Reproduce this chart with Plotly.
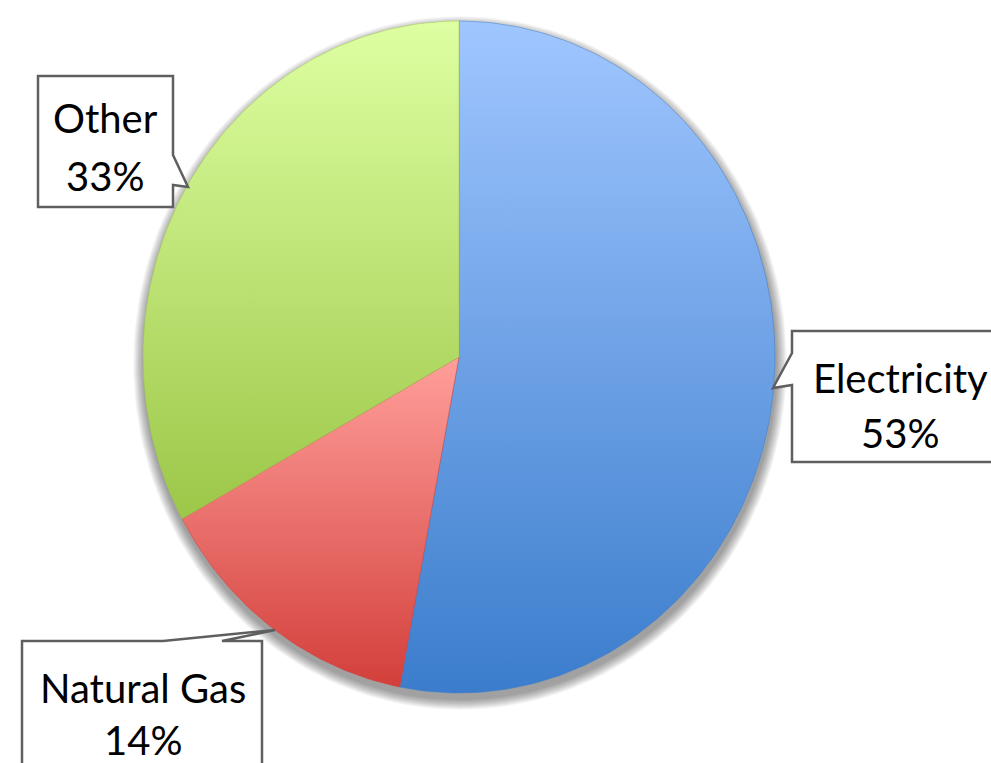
import math
import plotly.graph_objects as go

# ---- data ----
categories = ["Electricity", "Natural Gas", "Other"]
values = [53, 14, 33]
top_colors = ["#A0C6FF", "#FF9F9B", "#DEFFA2"]
bottom_colors = ["#3B7DCC", "#D33F3B", "#9CC748"]

# ---- geometry / style (pixel space) ----
W, H = 991, 763
CX, CY = 459, 357
RX, RY = 316, 336

def ellipse_pt(theta, rx=RX, ry=RY, cx=CX, cy=CY):
    # theta: radians clockwise from 12 o'clock
    return cx + rx * math.sin(theta), cy - ry * math.cos(theta)

fig = go.Figure()

# soft shadow
for k in range(12, 0, -1):
    xs, ys = [], []
    for i in range(181):
        t = 2 * math.pi * i / 180
        x, y = ellipse_pt(t, RX + k * 0.9, RY + k * 0.9, CX + 1, CY + 6)
        xs.append(x); ys.append(y)
    fig.add_trace(go.Scatter(x=xs, y=ys, mode="lines", fill="toself",
                             line=dict(width=0), fillcolor="rgba(0,0,0,0.035)",
                             hoverinfo="skip", showlegend=False))

total = sum(values)
start = 0.0
for cat, val, ct, cb in zip(categories, values, top_colors, bottom_colors):
    frac = val / total
    a0 = start * 2 * math.pi
    a1 = (start + frac) * 2 * math.pi
    n = max(8, int(360 * frac))
    xs, ys = [CX], [CY]
    for i in range(n + 1):
        t = a0 + (a1 - a0) * i / n
        x, y = ellipse_pt(t)
        xs.append(x); ys.append(y)
    xs.append(CX); ys.append(CY)
    fig.add_trace(go.Scatter(
        x=xs, y=ys, mode="lines", fill="toself", line=dict(width=0.5, color=cb),
        fillgradient=dict(type="vertical", start=min(ys), stop=max(ys),
                          colorscale=[[0, ct], [1, cb]]),
        name=cat, hoverinfo="skip", showlegend=False))
    start += frac

# callout boxes
box_line = dict(color="#5F5F5F", width=2.5)
shapes = [
    # Other
    dict(type="path", path="M 38 76 L 173 76 L 173 155 L 188 187 L 173 185 L 173 207 L 38 207 Z",
         line=box_line, fillcolor="white", layer="above"),
    # Electricity
    dict(type="path", path="M 792 331 L 1010 331 L 1010 462 L 792 462 L 792 385 L 773 388 L 792 353 Z",
         line=box_line, fillcolor="white", layer="above"),
    # Natural Gas
    dict(type="path", path="M 22 641 L 163 641 L 275 630 L 222 641 L 262 641 L 262 790 L 22 790 Z",
         line=box_line, fillcolor="white", layer="above"),
]
fig.update_layout(shapes=shapes)

label_pos = {
    "Electricity": (900, 378, 433),
    "Natural Gas": (143, 688, 740),
    "Other": (105, 118, 176),
}
font = dict(family="Lato", size=40, color="black")
for cat, val in zip(categories, values):
    x, y1, y2 = label_pos[cat]
    pct = f"{round(val / total * 100)}%"
    fig.add_annotation(x=x, y=y1, text=cat, showarrow=False, font=font,
                       xanchor="center", yanchor="middle")
    fig.add_annotation(x=x, y=y2, text=pct, showarrow=False, font=font,
                       xanchor="center", yanchor="middle")

fig.update_xaxes(range=[0, W], visible=False, fixedrange=True)
fig.update_yaxes(range=[H, 0], visible=False, fixedrange=True)
fig.update_layout(width=W, height=H, margin=dict(l=0, r=0, t=0, b=0),
                  plot_bgcolor="white", paper_bgcolor="white")
fig.write_html("out.html")
